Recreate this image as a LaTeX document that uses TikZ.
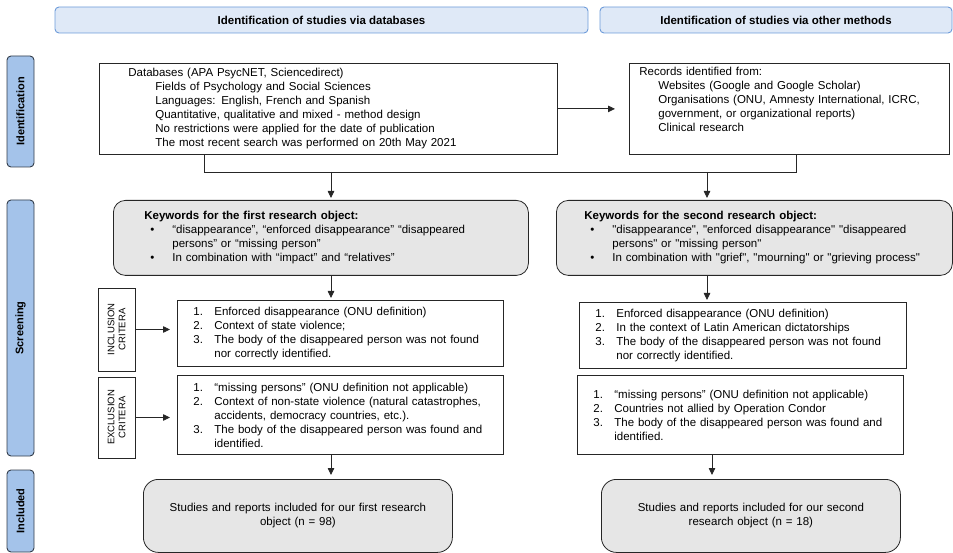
\documentclass[tikz,border=0pt]{standalone}
\usepackage{fontspec}
\setmainfont{Liberation Sans}
\usetikzlibrary{calc}
\usetikzlibrary{shapes,arrows.meta}

\definecolor{headfill}{HTML}{DFE9F7}
\definecolor{headdraw}{HTML}{6D9BD9}
\definecolor{phasefill}{HTML}{A4C3EA}
\definecolor{phasedraw}{HTML}{323C4A}
\definecolor{keyfill}{HTML}{E6E6E6}
\definecolor{boxdraw}{HTML}{262626}

\newcommand{\ind}[1][27pt]{\hspace*{#1}}
\newcommand{\itm}[1][]{\makebox[21pt][l]{#1}}
\newcommand{\bul}[1][\textbullet]{\makebox[28pt][l]{\hspace*{6pt}#1}}
\newcommand{\sq}[1]{\textquotedbl#1\textquotedbl}

\begin{document}
\begin{tikzpicture}[x=1pt,y=-1pt,
    txt/.style={font=\fontsize{11.5}{14}\selectfont},
    head/.style={draw=headdraw,fill=headfill,rounded corners=4pt,line width=0.9pt,
      font=\fontsize{11.5}{14}\selectfont\bfseries,minimum height=26pt,inner sep=0pt},
    phase/.style={draw=phasedraw,fill=phasefill,rounded corners=4pt,line width=0.9pt,
      rotate=90,font=\fontsize{11}{13}\selectfont\bfseries,minimum height=27pt,inner sep=0pt},
    crit/.style={draw=boxdraw,fill=white,line width=0.8pt,rotate=90,align=center,
      font=\fontsize{9.5}{11}\selectfont,minimum height=37pt,inner sep=0pt},
    listbox/.style={txt,draw=boxdraw,fill=white,line width=0.8pt,align=left,
      anchor=north west,inner ysep=0pt},
    keybox/.style={listbox,fill=keyfill,rounded corners=12pt},
    resbox/.style={keybox,align=center,inner xsep=10pt,rounded corners=15pt},
    line/.style={draw=boxdraw,line width=0.8pt},
    arr/.style={line,-{Triangle[length=7pt,width=6.5pt]}}]
  \useasboundingbox (0,0) rectangle (953,553);

  \node[head,minimum width=533pt] (hdb) at (321.5,20) {Identification of studies via databases};
  \node[head,minimum width=352pt] (hot) at (776,20) {Identification of studies via other methods};

  \node[phase,minimum width=111pt] (ident) at (20.5,111.5) {Identification};
  \node[phase,minimum width=256pt] (screen) at (20.5,328) {Screening};
  \node[phase,minimum width=82pt] (incl) at (20.5,511) {Included};

  \node[listbox,text width=400pt,inner xsep=29pt,minimum height=91pt] (db) at (99,63)
    {Databases (APA PsycNET, Sciencedirect)\\
     \ind Fields of Psychology and Social Sciences\\
     \ind Languages: English, French and Spanish\\
     \ind Quantitative, qualitative and mixed - method design\\
     \ind No restrictions were applied for the date of publication\\
     \ind The most recent search was performed on 20th May 2021};
  \node[listbox,text width=300pt,inner xsep=10pt,minimum height=91pt] (rec) at (629,63)
    {Records identified from:\\
     \ind[19pt]Websites (Google and Google Scholar)\\
     \ind[19pt]Organisations (ONU, Amnesty International, ICRC,\\
     \ind[19pt]government, or organizational reports)\\
     \ind[19pt]Clinical research\\ \strut};

  \node[keybox,text width=353pt,inner xsep=31pt,minimum height=75pt] (kw1) at (113,200)
    {\textbf{Keywords for the first research object:}\\
     \bul“disappearance”, “enforced disappearance” “disappeared\\
     \bul[]persons” or “missing person”\\
     \bul In combination with “impact” and “relatives”};
  \node[keybox,text width=340pt,inner xsep=28pt,minimum height=75pt] (kw2) at (556,200)
    {\textbf{Keywords for the second research object:}\\
     \bul\sq{disappearance}, \sq{enforced disappearance} \textquotedbl disappeared\\
     \bul[]persons\textquotedbl{} or \sq{missing person}\\
     \bul In combination with \sq{grief}, \sq{mourning} or \sq{grieving process}};

  \node[crit,minimum width=83pt] (inclab) at (116.5,329.5) {INCLUSION\\CRITERA};
  \node[crit,minimum width=81pt] (exclab) at (116.5,417.5) {EXCLUSION\\CRITERA};

  \node[listbox,text width=294pt,inner xsep=16pt,minimum height=66pt] (inc1) at (177,300)
    {\itm[1.]Enforced disappearance (ONU definition)\\
     \itm[2.]Context of state violence;\\
     \itm[3.]The body of the disappeared person was not found\\
     \itm nor correctly identified.};
  \node[listbox,text width=295pt,inner xsep=16pt,minimum height=66pt] (inc2) at (579,302)
    {\itm[1.]Enforced disappearance (ONU definition)\\
     \itm[2.]In the context of Latin American dictatorships\\
     \itm[3.]The body of the disappeared person was not found\\
     \itm nor correctly identified.};
  \node[listbox,text width=294pt,inner xsep=16pt,minimum height=79pt] (exc1) at (177,375)
    {\itm[1.]“missing persons” (ONU definition not applicable)\\
     \itm[2.]Context of non-state violence (natural catastrophes,\\
     \itm accidents, democracy countries, etc.).\\
     \itm[3.]The body of the disappeared person was found and\\
     \itm identified.};
  \node[listbox,text width=294pt,inner xsep=16pt,minimum height=79pt] (exc2) at (577,375)
    {\itm[1.]“missing persons” (ONU definition not applicable)\\
     \itm[2.]Countries not allied by Operation Condor\\
     \itm[3.]The body of the disappeared person was found and\\
     \itm identified.};

  \node[resbox,text width=289pt,minimum height=73pt] (res1) at (143,479)
    {Studies and reports included for our first research\\object (n = 98)};
  \node[resbox,text width=279pt,minimum height=73pt] (res2) at (601,479)
    {Studies and reports included for our second\\research object (n = 18)};

  \coordinate (busL) at (204,172);
  \coordinate (busR) at (796,172);
  \coordinate (dropL) at (331,172);
  \coordinate (dropR) at (707,172);
  \coordinate (colR) at (712,463);

  \draw[arr,shorten >=14pt] (db.east) -- (rec.west);
  \draw[line] (db.south -| busL) -- (busL) -- (busR) -- (rec.south -| busR);
  \draw[arr,shorten >=2pt] (dropL) -- (kw1.north -| dropL);
  \draw[arr,shorten >=2pt] (dropR) -- (kw2.north -| dropR);
  \draw[arr,shorten >=2pt] (kw1.south -| dropL) -- (inc1.north -| dropL);
  \draw[arr,shorten >=2pt] (kw2.south -| dropR) -- (inc2.north -| dropR);
  \draw[arr,shorten >=7pt] (inclab.south) -- (inc1.west |- inclab.south);
  \draw[arr,shorten >=7pt] (exclab.south) -- (exc1.west |- exclab.south);
  \draw[arr,shorten >=4pt] (exc1.south -| dropL) -- (res1.north -| dropL);
  \draw[arr,shorten >=4pt] (exc2.south -| colR) -- (res2.north -| colR);
\end{tikzpicture}
\end{document}
